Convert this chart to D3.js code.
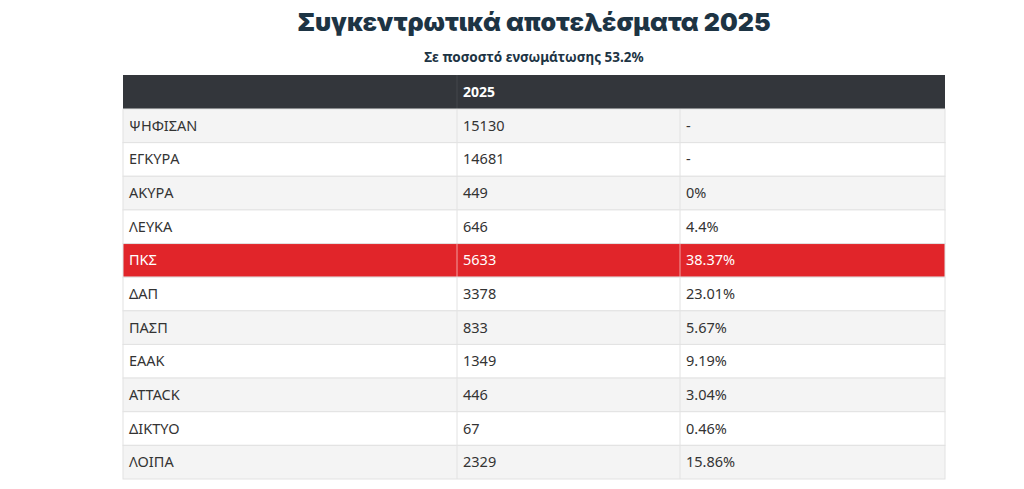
<!DOCTYPE html>
<html><head><meta charset="utf-8">
<script src="https://cdn.jsdelivr.net/npm/d3@7"></script>
<style>body{margin:0;background:#fff}</style>
</head><body>
<svg id="chart" width="1024" height="489"></svg>
<script>
const labels = ["ΨΗΦΙΣΑΝ","ΕΓΚΥΡΑ","ΑΚΥΡΑ","ΛΕΥΚΑ","ΠΚΣ","ΔΑΠ","ΠΑΣΠ","ΕΑΑΚ","ATTACK","ΔΙΚΤΥΟ","ΛΟΙΠΑ"];
const votes = [15130,14681,449,646,5633,3378,833,1349,446,67,2329];
const shares = ["-","-","0%","4.4%","38.37%","23.01%","5.67%","9.19%","3.04%","0.46%","15.86%"];
const highlight = "ΠΚΣ";

const svg = d3.select("#chart");
const font = "'Source Sans Pro','Liberation Sans Narrow','Noto Sans',sans-serif";

svg.append("text").attr("x", 534).attr("y", 31).attr("text-anchor", "middle")
  .attr("font-family", "Inter,'Noto Sans',sans-serif").attr("font-weight", 900)
  .attr("font-size", 25).attr("fill", "#1d3444").text("Συγκεντρωτικά αποτελέσματα 2025");
svg.append("text").attr("x", 534).attr("y", 62).attr("text-anchor", "middle")
  .attr("font-family", "'Noto Sans',sans-serif").attr("font-weight", 700)
  .attr("font-size", 13.5).attr("fill", "#1d3444").text("Σε ποσοστό ενσωμάτωσης 53.2%");

const x0 = 123, x1 = 457, x2 = 680, x3 = 945;
const y = d3.scaleBand().domain(d3.range(labels.length)).range([109, 479]);

// header
svg.append("rect").attr("x", x0).attr("y", 75).attr("width", x3 - x0).attr("height", 34).attr("fill", "#33363b");
svg.append("line").attr("x1", x1).attr("x2", x1).attr("y1", 75).attr("y2", 109).attr("stroke", "#44474c");
svg.append("text").attr("x", x1 + 6).attr("y", 97).attr("font-family", font).attr("font-weight", 700)
  .attr("font-size", 14).attr("fill", "#fff").text("2025");

const rows = svg.append("g").selectAll("g").data(labels).join("g")
  .attr("transform", (d, i) => `translate(0,${y(i)})`);
rows.append("rect").attr("x", x0).attr("width", x3 - x0).attr("height", y.bandwidth())
  .attr("fill", (d, i) => d === highlight ? "#e1252a" : (i % 2 === 0 ? "#f4f4f4" : "#fff"))
  .attr("stroke", "#e2e2e2");
rows.selectAll("line").data([x1, x2]).join("line")
  .attr("x1", d => d).attr("x2", d => d).attr("y1", 0).attr("y2", y.bandwidth())
  .attr("stroke", (d, i, n) => d3.select(n[i].parentNode).datum() === highlight ? "#f0a0a0" : "#e2e2e2");
const cells = (d, i) => [d, votes[i], shares[i]];
rows.each(function(d, i) {
  const g = d3.select(this);
  [x0, x1, x2].forEach((cx, k) => {
    g.append("text").attr("x", cx + 6).attr("y", y.bandwidth() / 2 + 5)
      .attr("font-family", font).attr("font-size", 14.5)
      .attr("fill", d === highlight ? "#fff" : "#333")
      .text(cells(d, i)[k]);
  });
});
</script>
</body></html>
